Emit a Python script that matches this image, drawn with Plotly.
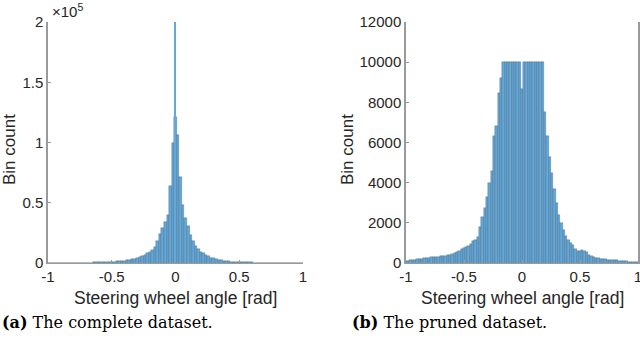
import plotly.graph_objects as go
import numpy as np

# bin centres shared by both histograms (bin width 0.02 rad)
bin_width = 0.02
bin_centers = np.round(np.arange(-1.0, 1.0001, bin_width), 2)

# complete dataset, counts per bin
counts_complete = [
    100, 100, 100, 100, 100, 150, 150, 150, 200, 200,
    200, 200, 250, 250, 300, 300, 350, 400, 450, 500,
    550, 600, 700, 800, 900, 1000, 1100, 1300, 1500, 1700,
    2000, 2300, 2700, 3000, 3600, 4200, 5000, 5800, 6800, 8000,
    9200, 11000, 13500, 18000, 24000, 29000, 34000, 40000, 64000, 100000,
    121000, 106000, 71000, 48000, 37000, 31000, 23000, 18000, 14000, 11500,
    9500, 8000, 6600, 5400, 4500, 3800, 3200, 2700, 2300, 1900,
    1600, 1400, 1200, 1000, 900, 800, 700, 600, 550, 500,
    450, 400, 350, 300, 300, 250, 250, 200, 200, 200,
    150, 150, 150, 100, 100, 100, 100, 100, 100, 100, 100,
]
# the single very narrow spike at zero
spike_x = [0.0]
spike_count = [200000]

# pruned dataset, counts per bin
counts_pruned = [
    100, 120, 140, 150, 170, 180, 200, 220, 240, 260, 270,
    290, 300, 310, 320, 330, 340, 350, 380, 420, 460,
    500, 560, 620, 680, 740, 780, 850, 950, 1080, 1150,
    1300, 1800, 2300, 2750, 3300, 4000, 4600, 6300, 6800, 8450,
    9200, 10000, 10000, 10000, 10000, 10000, 10000, 10000, 10000,
    8650,
    10000, 10000, 10000, 10000, 10000, 10000, 10000, 10000, 10000,
    7500, 6300, 5300, 4500, 3700, 3000, 2400, 2000, 1650, 1350,
    1150, 1000, 900, 700, 580, 620, 650, 600, 550, 420,
    330, 300, 270, 250, 220, 200, 190, 170, 160, 150,
    140, 130, 110, 100, 90, 80, 70, 60, 60, 50, 50,
]

left_yticks = [0, 50000, 100000, 150000, 200000]
left_yticktext = ["0", "0.5", "1", "1.5", "2"]
right_yticks = [0, 2000, 4000, 6000, 8000, 10000, 12000]
x_ticks = [-1, -0.5, 0, 0.5, 1]
x_ticktext = ["-1", "-0.5", "0", "0.5", "1"]

BAR = "#62a8d9"
EDGE = "rgba(20,40,60,0.45)"
AXIS = "#9a9a9a"
TXT = "#262626"
SANS = "Liberation Sans, Arial, sans-serif"
SERIF = "DejaVu Serif, Liberation Serif, serif"

fig = go.Figure()
fig.add_trace(go.Bar(x=bin_centers, y=counts_complete, width=bin_width,
                     marker=dict(color=BAR, line=dict(color=EDGE, width=0.5)),
                     xaxis="x", yaxis="y"))
fig.add_trace(go.Bar(x=spike_x, y=spike_count, width=0.008,
                     marker=dict(color=BAR, line=dict(width=0)),
                     xaxis="x", yaxis="y"))
fig.add_trace(go.Bar(x=bin_centers, y=counts_pruned, width=bin_width,
                     marker=dict(color=BAR, line=dict(color=EDGE, width=0.5)),
                     xaxis="x2", yaxis="y2"))

ydom = [1 - 263 / 340, 1 - 22 / 340]
xcommon = dict(range=[-1, 1], tickvals=x_ticks, ticktext=x_ticktext,
               showline=True, linecolor=AXIS, linewidth=1, ticks="inside",
               ticklen=3, tickcolor=AXIS, showgrid=False, zeroline=False,
               ticklabeloverflow="allow",
               tickfont=dict(family=SANS, size=15, color=TXT))
ycommon = dict(showline=True, linecolor=AXIS, linewidth=1.5, ticks="inside",
               ticklen=3, tickcolor=AXIS, showgrid=False, zeroline=False,
               domain=ydom, tickfont=dict(family=SANS, size=15, color=TXT))

fig.update_layout(
    width=640, height=340,
    margin=dict(l=0, r=0, t=0, b=0, autoexpand=False),
    paper_bgcolor="white", plot_bgcolor="white",
    showlegend=False, bargap=0, barmode="overlay",
    xaxis=dict(domain=[48 / 640, 303 / 640], anchor="y", **xcommon),
    yaxis=dict(range=[0, 200000], tickvals=left_yticks,
               ticktext=left_yticktext, anchor="x", **ycommon),
    xaxis2=dict(domain=[406 / 640, 638 / 640], anchor="y2", **xcommon),
    yaxis2=dict(range=[0, 12000], tickvals=right_yticks, tickformat="d",
                anchor="x2", mirror=True, **ycommon),
)

ann = [
    dict(x=50 / 640, y=1 - 11 / 340, text="×10<sup>5</sup>", xanchor="left",
         font=dict(family=SANS, size=15, color=TXT)),
    dict(x=9 / 640, y=1 - 150 / 340, text="Bin count", textangle=-90,
         font=dict(family=SANS, size=17, color=TXT)),
    dict(x=347 / 640, y=1 - 150 / 340, text="Bin count", textangle=-90,
         font=dict(family=SANS, size=17, color=TXT)),
    dict(x=175 / 640, y=1 - 298 / 340, text="Steering wheel angle [rad]",
         font=dict(family=SANS, size=17.5, color=TXT)),
    dict(x=522 / 640, y=1 - 298 / 340, text="Steering wheel angle [rad]",
         font=dict(family=SANS, size=17.5, color=TXT)),
    dict(x=0, y=1 - 322 / 340, text="<b>(a)</b> The complete dataset.",
         xanchor="left", font=dict(family=SERIF, size=16, color="black")),
    dict(x=350 / 640, y=1 - 322 / 340, text="<b>(b)</b> The pruned dataset.",
         xanchor="left", font=dict(family=SERIF, size=16, color="black")),
]
for a in ann:
    a.update(xref="paper", yref="paper", showarrow=False)
    a.setdefault("xanchor", "center")
    a.setdefault("yanchor", "middle")
fig.update_layout(annotations=ann)

# page body has a default 8px margin; drop it so the figure sits at the corner
fig.write_html("out.html", config={"displayModeBar": False},
               post_script="document.body.style.margin='0';")
